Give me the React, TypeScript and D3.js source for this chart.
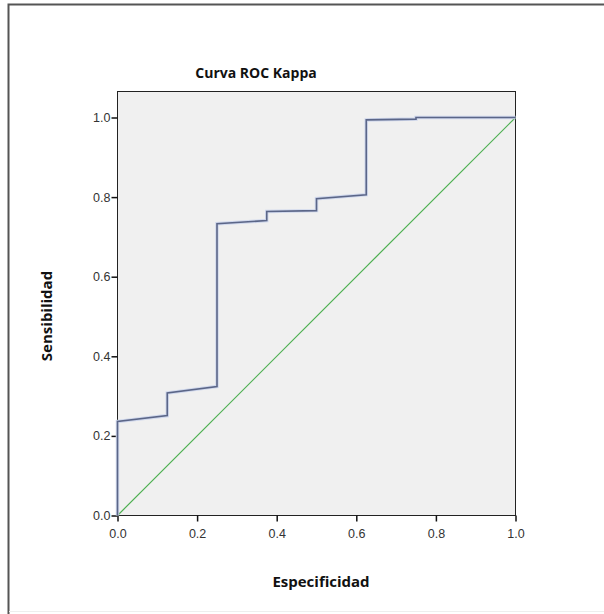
import React, { useEffect, useRef } from 'react';
import * as d3 from 'd3';

// ROC curve points (1 - especificidad, sensibilidad)
const rocX = [0, 0, 0.125, 0.125, 0.25, 0.25, 0.375, 0.375, 0.5, 0.5, 0.625, 0.625, 0.75, 0.75, 1];
const rocY = [0, 0.236, 0.251, 0.308, 0.324, 0.733, 0.741, 0.764, 0.766, 0.796, 0.806, 0.994, 0.996, 1, 1];
const refLine = [0, 1];
const ticks = [0, 0.2, 0.4, 0.6, 0.8, 1.0];

const App = () => {
  const svgRef = useRef<SVGSVGElement>(null);

  useEffect(() => {
    const svg = d3.select(svgRef.current);
    svg.selectAll('*').remove();

    const left = 117.5, right = 515.5, top = 91.5, bottom = 515.5;
    const x = d3.scaleLinear().domain([0, 1]).range([left, right]);
    const y = d3.scaleLinear().domain([0, 1]).range([bottom, 117.5]);

    // outer frame
    svg.append('path')
      .attr('d', 'M8.5,614 L8.5,4.5 L604,4.5')
      .attr('fill', 'none')
      .attr('stroke', '#555')
      .attr('stroke-width', 2);
    svg.append('line')
      .attr('x1', 9).attr('x2', 604).attr('y1', 611.5).attr('y2', 611.5)
      .attr('stroke', '#eee');

    svg.append('rect')
      .attr('x', left).attr('y', top)
      .attr('width', right - left).attr('height', bottom - top)
      .attr('fill', '#f0f0f0')
      .attr('stroke', '#222')
      .attr('stroke-width', 1);

    const font = 'Liberation Sans, Arial, sans-serif';

    const xAxis = svg.append('g')
      .attr('transform', `translate(0,${bottom})`)
      .call(d3.axisBottom(x).tickValues(ticks).tickSize(6).tickFormat(d3.format('.1f')));
    const yAxis = svg.append('g')
      .attr('transform', `translate(${left},0)`)
      .call(d3.axisLeft(y).tickValues(ticks).tickSize(6).tickFormat(d3.format('.1f')));
    [xAxis, yAxis].forEach(a => {
      a.select('.domain').remove();
      a.selectAll('line').attr('stroke', '#111').attr('stroke-width', 1.5);
      a.selectAll('text')
        .attr('font-family', font)
        .attr('font-size', 12.5)
        .attr('fill', '#333');
    });
    xAxis.selectAll('text').attr('dy', '1.1em');
    yAxis.selectAll('text').attr('x', -7);

    // reference diagonal
    svg.append('line')
      .attr('x1', x(refLine[0])).attr('y1', y(refLine[0]))
      .attr('x2', x(refLine[1])).attr('y2', y(refLine[1]))
      .attr('stroke', '#4caf50')
      .attr('stroke-width', 1.2);

    const pts = rocX.map((v, i) => [v, rocY[i]] as [number, number]);
    const line = d3.line<[number, number]>().x(d => x(d[0])).y(d => y(d[1]));

    svg.append('path')
      .datum(pts)
      .attr('d', line)
      .attr('fill', 'none')
      .attr('stroke', '#cfd7ec')
      .attr('stroke-width', 3.5);
    svg.append('path')
      .datum(pts)
      .attr('d', line)
      .attr('fill', 'none')
      .attr('stroke', '#5b6688')
      .attr('stroke-width', 1.6);

    const labelFont = 'Open Sans, sans-serif';
    svg.append('text')
      .attr('x', 256).attr('y', 78)
      .attr('text-anchor', 'middle')
      .attr('font-family', labelFont)
      .attr('font-weight', 'bold')
      .attr('font-size', 14)
      .attr('fill', '#111')
      .text('Curva ROC Kappa');
    svg.append('text')
      .attr('x', 321).attr('y', 587)
      .attr('text-anchor', 'middle')
      .attr('font-family', labelFont)
      .attr('font-weight', 'bold')
      .attr('font-size', 15)
      .attr('fill', '#111')
      .text('Especificidad');
    svg.append('text')
      .attr('transform', 'translate(52,316) rotate(-90)')
      .attr('text-anchor', 'middle')
      .attr('font-family', labelFont)
      .attr('font-weight', 'bold')
      .attr('font-size', 15)
      .attr('fill', '#111')
      .text('Sensibilidad');
  }, []);

  return (
    <svg ref={svgRef} width={604} height={614}
      style={{ position: 'absolute', left: 0, top: 0, background: '#fff' }} />
  );
};

export default App;
